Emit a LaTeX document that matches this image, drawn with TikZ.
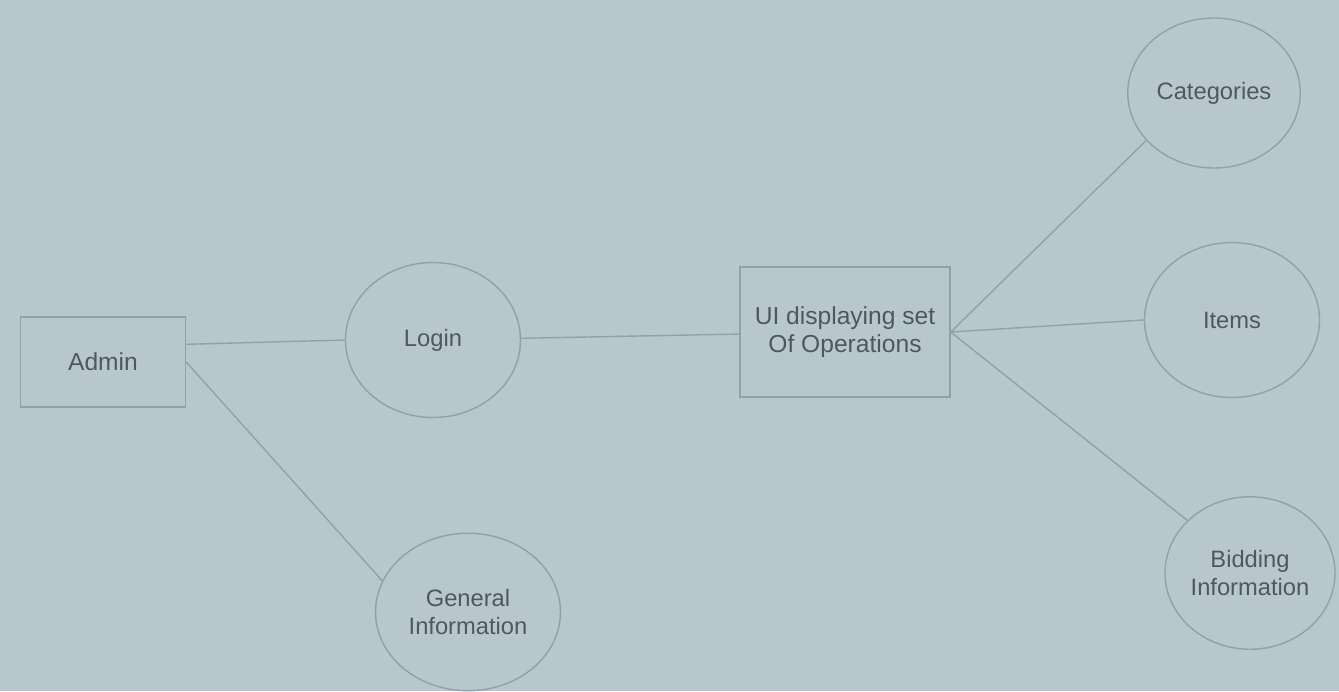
\documentclass[tikz,border=0pt]{standalone}
\usepackage{fontspec}
\setmainfont{Liberation Sans}
\usepackage{tikz}
\usetikzlibrary{shapes,positioning,calc}
\definecolor{paper}{RGB}{184,199,206}
\definecolor{pencil}{RGB}{146,160,168}
\definecolor{ink}{RGB}{78,88,95}
\tikzstyle{block} = [draw=pencil, rectangle, thick, align=center, text=ink,
    font=\fontsize{14}{16}\selectfont]
\tikzstyle{usecase} = [draw=pencil, ellipse, thick, align=center, text=ink, inner sep=0pt,
    minimum width=3.5cm, minimum height=3.1cm, font=\fontsize{13.5}{16}\selectfont]
\tikzstyle{link} = [draw=pencil, thick]

\begin{document}
\begin{tikzpicture}[auto, node distance=2cm]
    \fill [paper] (0,0) rectangle (26.78,-13.82);
    \useasboundingbox (0,0) rectangle (26.78,-13.82);

    \node [block, minimum width=3.3cm, minimum height=1.8cm] (admin) at (2.06,-7.24) {Admin};
    \node [usecase, right of=admin, node distance=6.6cm, yshift=0.44cm] (login) {Login};
    \node [usecase, minimum width=3.7cm, minimum height=3.15cm] (general) at (9.36,-12.24) {General\\Information};
    \node [block, minimum width=4.2cm, minimum height=2.6cm,
            right of=login, node distance=8.24cm, yshift=0.16cm] (ui) {UI displaying set\\Of Operations};

    \node [usecase, minimum width=3.45cm, minimum height=3cm] (categories) at (24.28,-1.86) {Categories};
    \node [usecase, right of=ui, node distance=7.74cm, yshift=0.24cm] (items) {Items};
    \node [usecase, minimum width=3.4cm, minimum height=3.05cm] (bidding) at (25.0,-11.46) {Bidding\\Information};

    \draw [link] (admin.12) -- (login.west);
    \draw [link] (admin.east) -- (general.160);
    \draw [link] (login) -- (ui);
    \draw [link] (ui.east) -- (categories.215);
    \draw [link] (ui.east) -- (items.west);
    \draw [link] (ui.east) -- (bidding.140);
\end{tikzpicture}
\end{document}
